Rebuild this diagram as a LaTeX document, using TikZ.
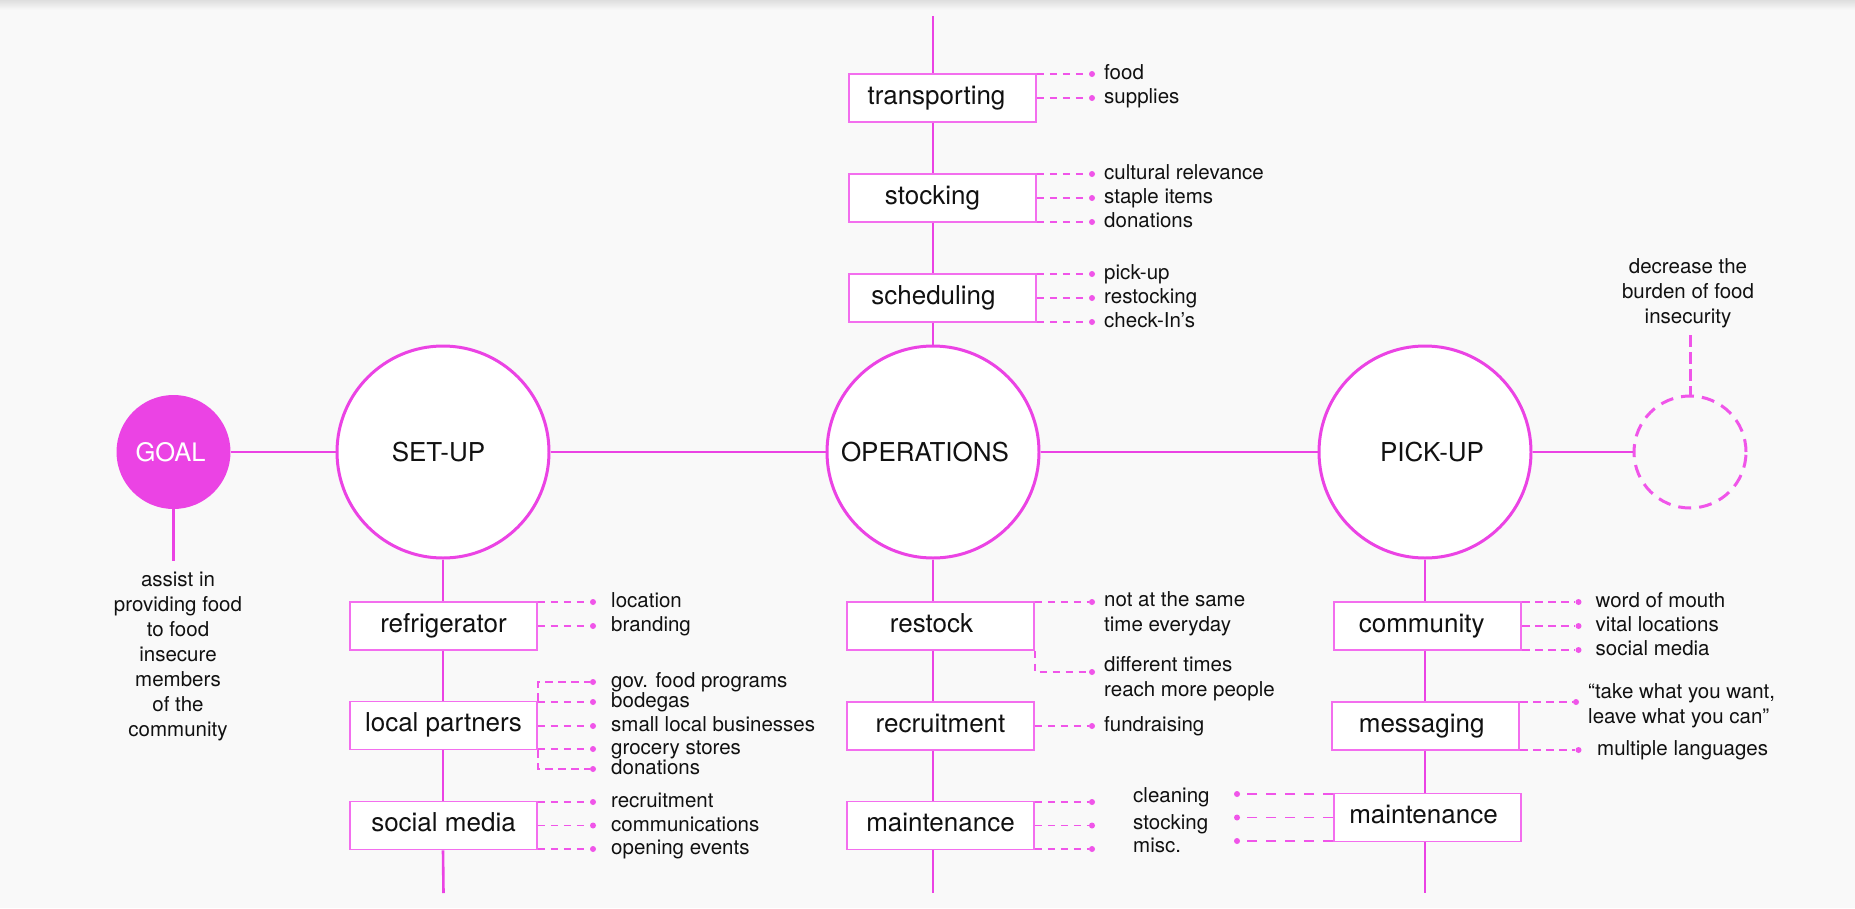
\documentclass[tikz,border=0pt]{standalone}
\usepackage{fontspec}
\setmainfont{TeX Gyre Heros}
\definecolor{bg}{RGB}{249,249,249}
\definecolor{shadow}{RGB}{222,222,222}
\definecolor{mg}{RGB}{235,67,228}
\definecolor{mgl}{RGB}{243,110,238}
\definecolor{mgd}{RGB}{240,85,233}
\definecolor{ink}{RGB}{17,17,17}
\newcommand\itm[5]{%
  \node[dotn] (#1) at (#2,#3) {};
  \node[item, yshift=-5.5pt] (#1t) at (#4,#3) {#5};}
\begin{document}
\begin{tikzpicture}[x=1pt,y=-1pt,
  bigc/.style={circle, draw=mg, line width=3pt, fill=white, minimum size=212pt, inner sep=0pt,
    text=ink, font=\fontsize{26}{30}\selectfont},
  goalc/.style={circle, fill=mg, minimum size=114pt, inner sep=0pt, text=white,
    font=\fontsize{25.5}{28}\selectfont},
  dcirc/.style={circle, draw=mgd, line width=3pt, dash pattern=on 13pt off 8pt,
    minimum size=112pt, inner sep=0pt},
  boxn/.style={rectangle, draw=mgl, line width=1.6pt, fill=white, minimum width=187pt,
    minimum height=48pt, inner sep=0pt, text height=18pt, text depth=6pt, text=ink,
    font=\fontsize{26}{30}\selectfont},
  axis/.style={draw=mg, line width=2.6pt},
  dsh/.style={draw=mgd, line width=1.8pt, dash pattern=on 7.5pt off 5.5pt},
  dshl/.style={draw=mgd, line width=1.8pt, dash pattern=on 10pt off 9pt},
  dvert/.style={draw=mgd, line width=3pt, dash pattern=on 12pt off 5pt},
  dotn/.style={circle, fill=mgd, minimum size=6pt, inner sep=0pt},
  item/.style={anchor=base west, inner sep=0pt, text=ink, font=\fontsize{20.5}{25}\selectfont},
  mitem/.style={anchor=north west, inner sep=0pt, align=left, text=ink,
    font=\fontsize{20.5}{25}\selectfont},
  ctext/.style={anchor=north, inner sep=0pt, align=center, text=ink,
    font=\fontsize{20.5}{25}\selectfont}
]
\useasboundingbox (0,0) rectangle (1855,908);
\fill[bg] (0,0) rectangle (1855,908);
\shade[top color=shadow, bottom color=bg] (0,0) rectangle (1855,10);

% main circles
\node[goalc] (goal) at (173.5,452) {\hspace*{-6pt}GOAL};
\node[bigc] (setup) at (443,452) {\hspace*{-9pt}SET-UP};
\node[bigc] (ops) at (933,452) {\hspace*{-16pt}OPERATIONS};
\node[bigc] (pick) at (1425,452) {\hspace*{14pt}PICK-UP};
\node[dcirc] (dc) at (1690,452) {};

% main axis
\draw[axis] (goal) -- (setup);
\draw[axis] (setup) -- (ops);
\draw[axis] (ops) -- (pick);
\draw[axis] (pick) -- (dc);

% goal description
\coordinate (goalend) at (173.5,561);
\draw[axis] (goal.south) -- (goalend);
\node[ctext] (gd) at (178,569) {\strut assist in\\ providing food\\ to food\\ insecure\\ members\\ of the\\ community};

% outcome
\node[ctext] (dec) at (1688,256) {\strut decrease the\\ burden of food\\ insecurity};
\coordinate (dtop) at (1690,335);
\draw[dvert] (dtop) -- (dc.north);

% boxes
\node[boxn] (rf) at (443.5,626) {refrigerator};
\node[boxn] (lp) at (443.5,725.5) {local partners};
\node[boxn] (sm) at (443.5,825.5) {social media};
\node[boxn] (tr) at (942.5,98) {\hspace*{-12pt}transporting};
\node[boxn] (st) at (942.5,198) {\hspace*{-20pt}stocking};
\node[boxn] (sc) at (942.5,298) {\hspace*{-18pt}scheduling};
\node[boxn] (rs) at (940.5,626) {\hspace*{-18pt}restock};
\node[boxn] (rc) at (940.5,726) {recruitment};
\node[boxn] (mt) at (940.5,825.5) {maintenance};
\node[boxn] (cm) at (1427.7,626) {\hspace*{-12pt}community};
\node[boxn] (ms) at (1425.7,726) {\hspace*{-8pt}messaging};
\node[boxn] (pm) at (1427.5,817.5) {\hspace*{-8pt}maintenance};

% vertical axes
\coordinate (setend) at (443.5,893);
\draw[axis] (setup.south) -- (setup.south |- rf.north);
\draw[axis] (setup.south |- rf.south) -- (setup.south |- lp.north);
\draw[axis] (setup.south |- lp.south) -- (setup.south |- sm.north);
\draw[axis] (setup.south |- sm.south) -- (setend);

\coordinate (opstop) at (933,16);
\coordinate (opsend) at (933,893);
\draw[axis] (opstop) -- (opstop |- tr.north);
\draw[axis] (opstop |- tr.south) -- (opstop |- st.north);
\draw[axis] (opstop |- st.south) -- (opstop |- sc.north);
\draw[axis] (opstop |- sc.south) -- (ops.north);
\draw[axis] (ops.south) -- (ops.south |- rs.north);
\draw[axis] (ops.south |- rs.south) -- (ops.south |- rc.north);
\draw[axis] (ops.south |- rc.south) -- (ops.south |- mt.north);
\draw[axis] (ops.south |- mt.south) -- (opsend);

\coordinate (pickend) at (1425,893);
\draw[axis] (pick.south) -- (pick.south |- cm.north);
\draw[axis] (pick.south |- cm.south) -- (pick.south |- ms.north);
\draw[axis] (pick.south |- ms.south) -- (pick.south |- pm.north);
\draw[axis] (pick.south |- pm.south) -- (pickend);

% SET-UP items
\itm{a1}{593}{602}{611}{location}
\itm{a2}{593}{626}{611}{branding}
\draw[dsh] (rf.east |- a1) -- (a1);
\draw[dsh] (rf.east |- a2) -- (a2);
\itm{b1}{593}{682}{611}{gov. food programs}
\itm{b2}{593}{702}{611}{bodegas}
\itm{b3}{593}{726}{611}{small local businesses}
\itm{b4}{593}{749}{611}{grocery stores}
\itm{b5}{593}{769}{611}{donations}
\draw[dsh] (lp.north east) -- (lp.east |- b1) -- (b1);
\draw[dsh] (lp.east |- b2) -- (b2);
\draw[dsh] (lp.east |- b3) -- (b3);
\draw[dsh] (lp.east |- b4) -- (b4);
\draw[dsh] (lp.south east) -- (lp.east |- b5) -- (b5);
\itm{c1}{593}{802}{611}{recruitment}
\itm{c2}{593}{825.5}{611}{communications}
\itm{c3}{593}{849}{611}{opening events}
\draw[dsh] (sm.east |- c1) -- (c1);
\draw[dsh] (sm.east |- c2) -- (c2);
\draw[dsh] (sm.east |- c3) -- (c3);

% OPERATIONS top items
\itm{d1}{1092}{74}{1104}{food}
\itm{d2}{1092}{98}{1104}{supplies}
\draw[dsh] (tr.east |- d1) -- (d1);
\draw[dsh] (tr.east |- d2) -- (d2);
\itm{e1}{1092}{174}{1104}{cultural relevance}
\itm{e2}{1092}{198}{1104}{staple items}
\itm{e3}{1092}{222}{1104}{donations}
\draw[dsh] (st.east |- e1) -- (e1);
\draw[dsh] (st.east |- e2) -- (e2);
\draw[dsh] (st.east |- e3) -- (e3);
\itm{f1}{1092}{274}{1104}{pick-up}
\itm{f2}{1092}{298}{1104}{restocking}
\itm{f3}{1092}{322}{1104}{check-In's}
\draw[dsh] (sc.east |- f1) -- (f1);
\draw[dsh] (sc.east |- f2) -- (f2);
\draw[dsh] (sc.east |- f3) -- (f3);

% OPERATIONS bottom items
\node[dotn] (g1) at (1092,602) {};
\node[mitem] (g1t) at (1104,589) {\strut not at the same\\ time everyday};
\node[dotn] (g2) at (1092,672) {};
\node[mitem] (g2t) at (1104,654) {\strut different times\\ reach more people};
\draw[dsh] (rs.east |- g1) -- (g1);
\draw[dsh] (rs.south east) -- (rs.east |- g2) -- (g2);
\itm{h1}{1092}{726}{1104}{fundraising}
\draw[dsh] (rc.east |- h1) -- (h1);
\node[dotn] (k1) at (1092,802) {};
\node[dotn] (k2) at (1092,825.5) {};
\node[dotn] (k3) at (1092,849) {};
\node[item, yshift=-5.5pt] (k1t) at (1133,797) {cleaning};
\node[item, yshift=-5.5pt] (k2t) at (1133,824) {stocking};
\node[item, yshift=-5.5pt] (k3t) at (1133,847) {misc.};
\draw[dsh] (mt.east |- k1) -- (k1);
\draw[dsh] (mt.east |- k2) -- (k2);
\draw[dsh] (mt.east |- k3) -- (k3);

% PICK-UP items
\itm{m1}{1578.5}{602}{1595.5}{word of mouth}
\itm{m2}{1578.5}{626}{1595.5}{vital locations}
\itm{m3}{1578.5}{650}{1595.5}{social media}
\draw[dsh] (cm.east |- m1) -- (m1);
\draw[dsh] (cm.east |- m2) -- (m2);
\draw[dsh] (cm.east |- m3) -- (m3);
\node[dotn] (n1) at (1576,702) {};
\node[mitem] (n1t) at (1588,681) {\strut “take what you want,\\ leave what you can”};
\itm{n2}{1578.5}{750}{1597}{multiple languages}
\draw[dsh] (ms.east |- n1) -- (n1);
\draw[dsh] (ms.east |- n2) -- (n2);
\node[dotn] (p1) at (1237,794) {};
\node[dotn] (p2) at (1237,817.5) {};
\node[dotn] (p3) at (1237,841) {};
\draw[dshl] (pm.west |- p1) -- (p1);
\draw[dshl] (pm.west |- p2) -- (p2);
\draw[dshl] (pm.west |- p3) -- (p3);
\end{tikzpicture}
\end{document}
